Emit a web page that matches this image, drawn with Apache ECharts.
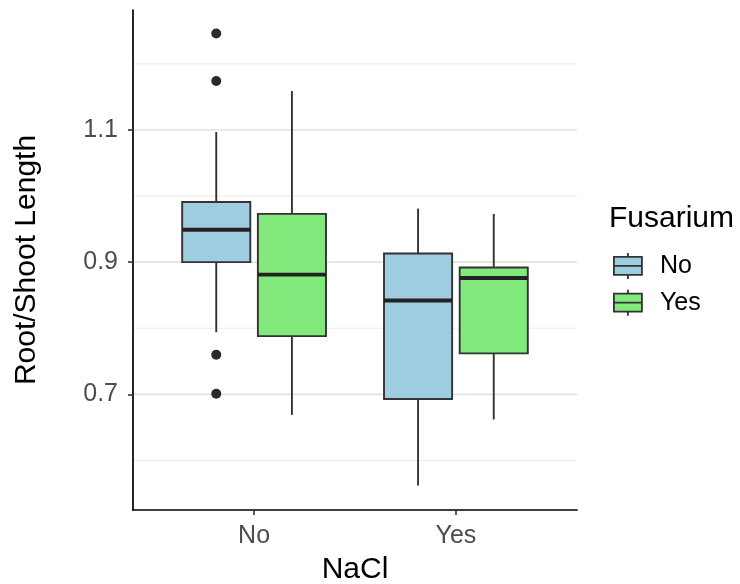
<!DOCTYPE html>
<html>
<head>
<meta charset="utf-8">
<script src="https://cdn.jsdelivr.net/npm/echarts@6/dist/echarts.min.js"></script>
<style>html,body{margin:0;padding:0;background:#fff}#c{width:740px;height:584px}</style>
</head>
<body>
<div id="c"></div>
<script>
// NaCl categories (x axis) and Fusarium groups (legend)
const naclCategories = ['No', 'Yes'];
const fusariumGroups = ['No', 'Yes'];
// five-number summaries [min, Q1, median, Q3, max] per NaCl category
const statsFusNo  = [[0.794, 0.900, 0.949, 0.991, 1.097], [0.562, 0.693, 0.842, 0.913, 0.981]];
const statsFusYes = [[0.669, 0.788, 0.881, 0.973, 1.159], [0.662, 0.762, 0.876, 0.892, 0.973]];
// outliers: [NaCl index, value] for Fusarium = No
const outliersFusNo = [[0, 1.246], [0, 1.174], [0, 0.760], [0, 0.701]];
const yTickValues = [0.7, 0.9, 1.1];
const minorGridValues = [0.6, 0.8, 1.0, 1.2];

const colors = ['#9ecde0', '#82ea7d'];
const dodge = 0.1875, boxW = 0.3375;
const FONT = 'Liberation Sans, Arial, Helvetica, sans-serif';

function boxData(stats, g) {
  return stats.map((s, i) => [i + 1 + (g === 0 ? -dodge : dodge)].concat(s));
}
function renderBox(params, api) {
  const x = api.value(0);
  const mn = api.value(1), q1 = api.value(2), md = api.value(3), q3 = api.value(4), mx = api.value(5);
  const tl = api.coord([x - boxW / 2, q3]);
  const br = api.coord([x + boxW / 2, q1]);
  const pMax = api.coord([x, mx]), pMin = api.coord([x, mn]);
  const pQ3 = api.coord([x, q3]), pQ1 = api.coord([x, q1]);
  const mL = api.coord([x - boxW / 2, md]), mR = api.coord([x + boxW / 2, md]);
  const fill = api.visual('color');
  const ln = {stroke: '#333', lineWidth: 1.9};
  return {type: 'group', children: [
    {type: 'line', shape: {x1: pMax[0], y1: pMax[1], x2: pQ3[0], y2: pQ3[1]}, style: ln},
    {type: 'line', shape: {x1: pMin[0], y1: pMin[1], x2: pQ1[0], y2: pQ1[1]}, style: ln},
    {type: 'rect', shape: {x: tl[0], y: tl[1], width: br[0] - tl[0], height: br[1] - tl[1]},
      style: {fill: fill, stroke: '#333', lineWidth: 1.9}},
    {type: 'line', shape: {x1: mL[0], y1: mL[1], x2: mR[0], y2: mR[1]}, style: {stroke: '#222', lineWidth: 3.8}}
  ]};
}
function renderGrid(params, api) {
  const v = api.value(0), major = api.value(1);
  const a = api.coord([0.4, v]), b = api.coord([2.6, v]);
  return {type: 'line', shape: {x1: a[0] + 1, y1: a[1], x2: b[0], y2: b[1]},
    style: {stroke: major ? '#e2e2e2' : '#ececec', lineWidth: major ? 1.6 : 1.1}};
}

const gridData = yTickValues.map(v => [v, 1]).concat(minorGridValues.map(v => [v, 0]));
const legendIcon = 'path://M0,4L28,4L28,22L0,22Z M0,13L28,13 M14,0L14,4 M14,22L14,26';

const chart = echarts.init(document.getElementById('c'), null, {renderer: 'canvas'});
chart.setOption({
  animation: false,
  backgroundColor: '#fff',
  textStyle: {fontFamily: FONT},
  title: {text: 'Fusarium', left: 609, top: 204, padding: 0,
    textStyle: {fontFamily: FONT, fontSize: 30, fontWeight: 'normal', color: '#000'}},
  legend: {
    data: fusariumGroups, orient: 'vertical', left: 613, top: 252, padding: 0,
    itemWidth: 28, itemHeight: 26, itemGap: 9, icon: legendIcon,
    itemStyle: {borderColor: '#333', borderWidth: 1.8},
    textStyle: {fontFamily: FONT, fontSize: 25, color: '#000', padding: [0, 0, 0, 13]},
    selectedMode: false
  },
  grid: {left: 133, right: 163, top: 10, bottom: 74, containLabel: false, outerBoundsMode: 'none'},
  xAxis: {
    type: 'value', min: 0.4, max: 2.6,
    name: 'NaCl', nameLocation: 'middle', nameGap: 45,
    nameTextStyle: {fontFamily: FONT, fontSize: 30, color: '#000'},
    axisLine: {show: true, onZero: false, lineStyle: {color: '#000', width: 1.7}},
    axisTick: {show: true, length: 5, customValues: [1, 2], lineStyle: {color: '#333', width: 1.6}},
    axisLabel: {customValues: [1, 2], margin: 14, fontFamily: FONT, fontSize: 25, color: '#4d4d4d',
      formatter: v => naclCategories[Math.round(v) - 1] || ''},
    splitLine: {show: false}
  },
  yAxis: {
    type: 'value', min: 0.525, max: 1.2815,
    name: 'Root/Shoot Length', nameLocation: 'middle', nameGap: 91,
    nameTextStyle: {fontFamily: FONT, fontSize: 30, color: '#000'},
    axisLine: {show: true, onZero: false, lineStyle: {color: '#000', width: 1.7}},
    axisTick: {show: true, length: 5, customValues: yTickValues, lineStyle: {color: '#333', width: 1.6}},
    axisLabel: {customValues: yTickValues, margin: 15, fontFamily: FONT, fontSize: 25, color: '#4d4d4d',
      formatter: v => v.toFixed(1)},
    splitLine: {show: false}
  },
  series: [
    {type: 'custom', name: 'grid', z: 1, silent: true, renderItem: renderGrid, data: gridData,
      encode: {x: -1, y: 0}},
    {type: 'custom', name: fusariumGroups[0], z: 2, renderItem: renderBox, data: boxData(statsFusNo, 0),
      itemStyle: {color: colors[0], borderColor: '#333', borderWidth: 1.8},
      encode: {x: 0, y: [1, 2, 3, 4, 5]}},
    {type: 'custom', name: fusariumGroups[1], z: 2, renderItem: renderBox, data: boxData(statsFusYes, 1),
      itemStyle: {color: colors[1], borderColor: '#333', borderWidth: 1.8},
      encode: {x: 0, y: [1, 2, 3, 4, 5]}},
    {type: 'scatter', name: 'outliers', z: 3, symbolSize: 10,
      itemStyle: {color: '#2b2b2b', opacity: 1},
      data: outliersFusNo.map(o => [o[0] + 1 - dodge, o[1]])}
  ]
});
</script>
</body>
</html>
